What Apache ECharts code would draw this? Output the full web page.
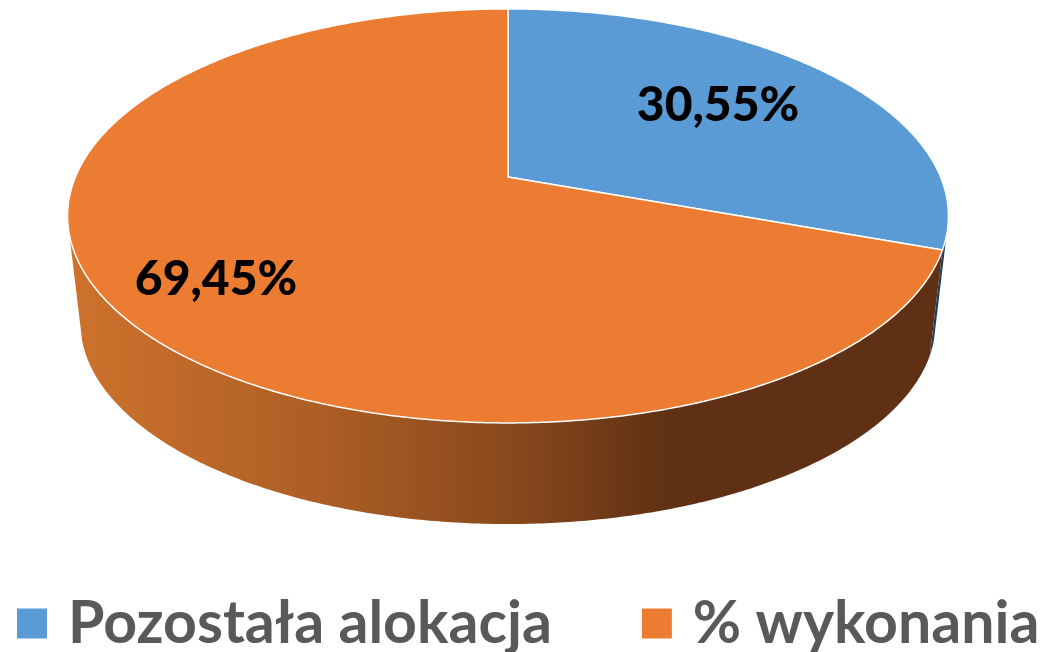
<!DOCTYPE html>
<html><head><meta charset="utf-8">
<style>html,body{margin:0;padding:0;background:#fff}#c{width:1050px;height:652px}</style>
<script src="https://cdn.jsdelivr.net/npm/echarts@6/dist/echarts.min.js"></script>
</head><body><div id="c"></div>
<script>
const categories = ['Pozostała alokacja', '% wykonania'];
const values = [30.55, 69.45];
const labels = ['30,55%', '69,45%'];
const colors = ['#5B9BD5', '#EB7C31'];

// perspective projection of the pie disc
const K = 0.188, CX = 508;
const TOP = {rx: 432.6, ry: 199.7, cy: 177};
const BOT = {rx: 420, ry: 194.5, cy: 284.5};
const LABEL_AT = [[718, 106], [216, 280]];
// visible part of the side wall, in degrees clockwise from 12 o'clock
const WALL_FROM = 106, WALL_TO = 254;

const total = values.reduce((a, b) => a + b, 0);
function proj(p, deg) {
  const t = deg * Math.PI / 180, x = Math.sin(t), y = -Math.cos(t), w = 1 - K * y;
  return [CX + p.rx * x / w, p.cy + p.ry * y / w];
}
function arc(p, a, b) {
  const n = Math.max(2, Math.ceil(Math.abs(b - a) * 2)), pts = [];
  for (let i = 0; i <= n; i++) pts.push(proj(p, a + (b - a) * i / n));
  return pts;
}
const wallOrange = {type: 'linear', x: 70, y: 0, x2: 950, y2: 0, global: true, colorStops: [
  {offset: 0, color: '#CE722D'}, {offset: 0.27, color: '#AE5F25'},
  {offset: 0.49, color: '#8B4A1D'}, {offset: 0.68, color: '#5F3013'}, {offset: 1, color: '#5F3013'}]};
const wallFill = ['#1F3F5F', wallOrange];

function makeRender(idx) {
  return function (params, api) {
    const v = api.value(0);
    const before = values.slice(0, idx).reduce((a, b) => a + b, 0);
    const a0 = before / total * 360, a1 = a0 + v / total * 360;
    const wa = Math.max(a0, WALL_FROM), wb = Math.min(a1, WALL_TO);
    const wall = arc(TOP, wa, wb).concat(arc(BOT, wb, wa));
    const top = [[CX, TOP.cy]].concat(arc(TOP, a0, a1));
    return {type: 'group', children: [
      {type: 'polygon', shape: {points: wall}, style: {fill: wallFill[idx]}},
      {type: 'polygon', shape: {points: top}, style: {fill: colors[idx], stroke: '#fff', lineWidth: 1.5, lineJoin: 'round'}},
      {type: 'text', x: LABEL_AT[idx][0], y: LABEL_AT[idx][1], style: {
        text: labels[idx], fill: '#000', font: '900 48px Lato', align: 'center', verticalAlign: 'middle'}}
    ]};
  };
}
const chart = echarts.init(document.getElementById('c'), null, {renderer: 'canvas'});
chart.setOption({
  animation: false,
  backgroundColor: '#fff',
  legend: {
    data: categories, left: 17, top: 594, itemWidth: 30, itemHeight: 30, itemGap: 90,
    icon: 'rect', selectedMode: false, padding: 0,
    textStyle: {color: '#595959', fontFamily: 'Lato', fontWeight: 'bold', fontSize: 59, padding: [0, 0, 0, 16]}
  },
  series: categories.map((name, i) => ({
    type: 'custom', name, coordinateSystem: 'none', silent: true,
    itemStyle: {color: colors[i]}, data: [[values[i]]], renderItem: makeRender(i), clip: false
  }))
});
</script></body></html>
